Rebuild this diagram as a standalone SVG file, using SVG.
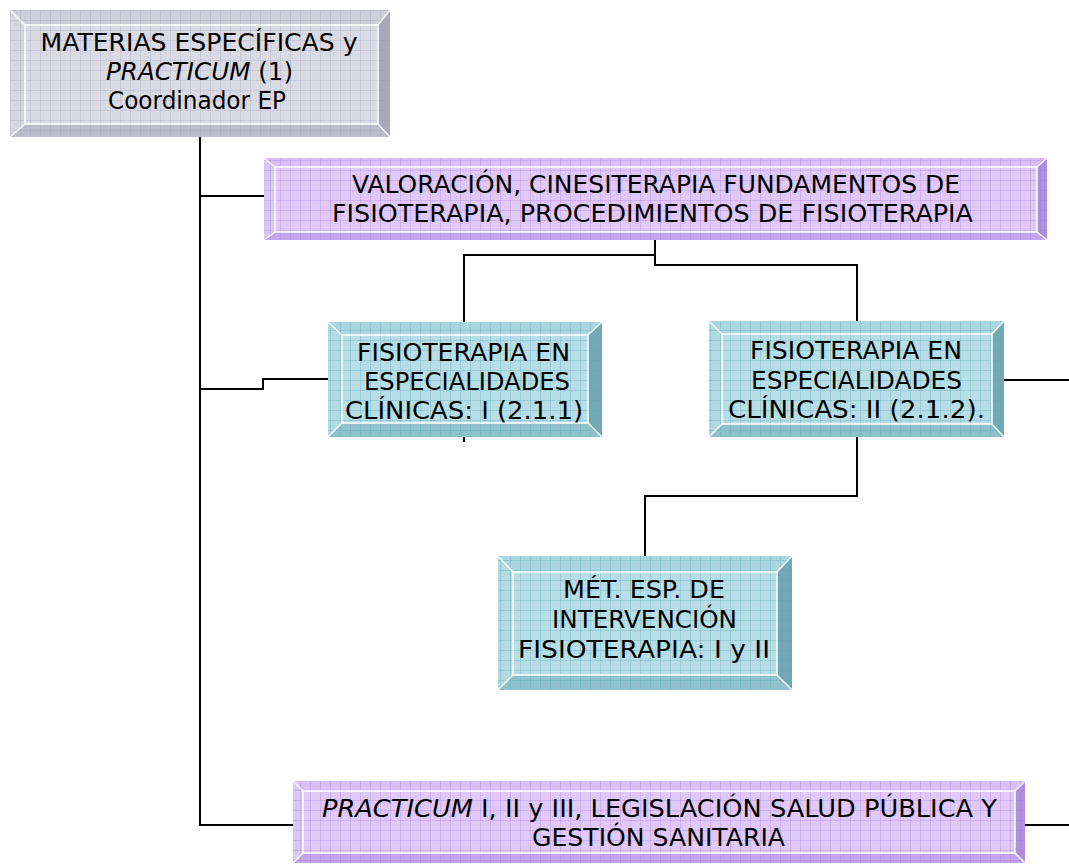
<svg xmlns="http://www.w3.org/2000/svg" width="1069" height="865" viewBox="0 0 1069 865">
<style>
.t{font-family:"DejaVu Sans",Verdana,sans-serif;font-size:25px;fill:#000;text-anchor:middle}
.c{stroke:#000;stroke-width:2;fill:none}
.hl{stroke:#fff;stroke-width:1.5;fill:none}
.dg{stroke:#fff;stroke-width:1.5;opacity:0.9}
.g .top{fill:#cfcfdb}.g .lft{fill:#d6d6e0}.g .rgt{fill:#a9a9ba}.g .bot{fill:#bcbccb}.g .face{fill:#dadae4}
.p .top{fill:#d8bff5}.p .lft{fill:#dcc6f6}.p .rgt{fill:#ae90da}.p .bot{fill:#c4a5ee}.p .face{fill:#e0c9f7}
.b .top{fill:#a9d6df}.b .lft{fill:#b1dbe3}.b .rgt{fill:#74a8b4}.b .bot{fill:#8ec1cc}.b .face{fill:#b7dee6}
</style>
<defs>
<pattern id="gg" width="10" height="10" patternUnits="userSpaceOnUse"><path d="M0,0.5H10M0.5,0V10" stroke="#9a9ab4" stroke-opacity="0.28" stroke-width="1" fill="none"/></pattern>
<pattern id="pg" width="10" height="10" patternUnits="userSpaceOnUse"><path d="M0,0.5H10M0.5,0V10" stroke="#a070e0" stroke-opacity="0.28" stroke-width="1" fill="none"/></pattern>
<pattern id="bg" width="10" height="10" patternUnits="userSpaceOnUse"><path d="M0,0.5H10M0.5,0V10" stroke="#5aa6b8" stroke-opacity="0.32" stroke-width="1" fill="none"/></pattern>
</defs>

<g id="connectors">
<path class="c" d="M200,137V825H293"/>
<path class="c" d="M200,196H264"/>
<path class="c" d="M200,389H263V379H328"/>
<path class="c" d="M1025,825H1069"/>
<path class="c" d="M1004,380H1069"/>
<path class="c" d="M655,240V265H857V321"/>
<path class="c" d="M655,255H464V322"/>
<path class="c" d="M857,437V496H645V556"/>
<path class="c" d="M464,437V442"/>
</g>

<g id="n-materias" class="g">
<polygon class="top" points="10,10 390,10 378,25 25,25"/>
<polygon class="lft" points="10,10 25,25 25,124 10,137"/>
<polygon class="rgt" points="390,10 390,137 378,124 378,25"/>
<polygon class="bot" points="10,137 25,124 378,124 390,137"/>
<rect class="face" x="25" y="25" width="353" height="99"/>
<rect x="10" y="10" width="380" height="127" fill="url(#gg)"/>
<rect class="hl" x="25" y="25" width="353" height="99"/>
<path class="dg" d="M10,10L25,25M390,10L378,25M10,137L25,124M390,137L378,124"/>
<text class="t" x="199" y="51" textLength="317" lengthAdjust="spacingAndGlyphs">MATERIAS ESPECÍFICAS y</text>
<text class="t" x="199.5" y="80" textLength="187" lengthAdjust="spacingAndGlyphs"><tspan font-style="italic">PRACTICUM</tspan> (1)</text>
<text class="t" x="197" y="109" textLength="178" lengthAdjust="spacingAndGlyphs">Coordinador EP</text>
</g>

<g id="n-valoracion" class="p">
<polygon class="top" points="264,158 1047,158 1037,167 275,167"/>
<polygon class="lft" points="264,158 275,167 275,232 264,240"/>
<polygon class="rgt" points="1047,158 1047,240 1037,232 1037,167"/>
<polygon class="bot" points="264,240 275,232 1037,232 1047,240"/>
<rect class="face" x="275" y="167" width="762" height="65"/>
<rect x="264" y="158" width="783" height="82" fill="url(#pg)"/>
<rect class="hl" x="275" y="167" width="762" height="65"/>
<path class="dg" d="M264,158L275,167M1047,158L1037,167M264,240L275,232M1047,240L1037,232"/>
<text class="t" x="656" y="193" textLength="608" lengthAdjust="spacingAndGlyphs">VALORACIÓN, CINESITERAPIA FUNDAMENTOS DE</text>
<text class="t" x="652.5" y="222" textLength="641" lengthAdjust="spacingAndGlyphs">FISIOTERAPIA, PROCEDIMIENTOS DE FISIOTERAPIA</text>
</g>

<g id="n-clinicas1" class="b">
<polygon class="top" points="328,322 602,322 588,335 342,335"/>
<polygon class="lft" points="328,322 342,335 342,423 328,437"/>
<polygon class="rgt" points="602,322 602,437 588,423 588,335"/>
<polygon class="bot" points="328,437 342,423 588,423 602,437"/>
<rect class="face" x="342" y="335" width="246" height="88"/>
<rect x="328" y="322" width="274" height="115" fill="url(#bg)"/>
<rect class="hl" x="342" y="335" width="246" height="88"/>
<path class="dg" d="M328,322L342,335M602,322L588,335M328,437L342,423M602,437L588,423"/>
<text class="t" x="463.5" y="361" textLength="213" lengthAdjust="spacingAndGlyphs">FISIOTERAPIA EN</text>
<text class="t" x="467" y="390" textLength="206" lengthAdjust="spacingAndGlyphs">ESPECIALIDADES</text>
<text class="t" x="464" y="419" textLength="238" lengthAdjust="spacingAndGlyphs">CLÍNICAS: I (2.1.1)</text>
</g>

<g id="n-clinicas2" class="b">
<polygon class="top" points="709,321 1004,321 992,334 722,334"/>
<polygon class="lft" points="709,321 722,334 722,424 709,437"/>
<polygon class="rgt" points="1004,321 1004,437 992,424 992,334"/>
<polygon class="bot" points="709,437 722,424 992,424 1004,437"/>
<rect class="face" x="722" y="334" width="270" height="90"/>
<rect x="709" y="321" width="295" height="116" fill="url(#bg)"/>
<rect class="hl" x="722" y="334" width="270" height="90"/>
<path class="dg" d="M709,321L722,334M1004,321L992,334M709,437L722,424M1004,437L992,424"/>
<text class="t" x="856" y="359" textLength="212" lengthAdjust="spacingAndGlyphs">FISIOTERAPIA EN</text>
<text class="t" x="856.5" y="389" textLength="211" lengthAdjust="spacingAndGlyphs">ESPECIALIDADES</text>
<text class="t" x="856.5" y="418" textLength="257" lengthAdjust="spacingAndGlyphs">CLÍNICAS: II (2.1.2).</text>
</g>

<g id="n-metodos" class="b">
<polygon class="top" points="498,556 792,556 777,572 513,572"/>
<polygon class="lft" points="498,556 513,572 513,675 498,690"/>
<polygon class="rgt" points="792,556 792,690 777,675 777,572"/>
<polygon class="bot" points="498,690 513,675 777,675 792,690"/>
<rect class="face" x="513" y="572" width="264" height="103"/>
<rect x="498" y="556" width="294" height="134" fill="url(#bg)"/>
<rect class="hl" x="513" y="572" width="264" height="103"/>
<path class="dg" d="M498,556L513,572M792,556L777,572M498,690L513,675M792,690L777,675"/>
<text class="t" x="644" y="598" textLength="162" lengthAdjust="spacingAndGlyphs">MÉT. ESP. DE</text>
<text class="t" x="644.5" y="628" textLength="185" lengthAdjust="spacingAndGlyphs">INTERVENCIÓN</text>
<text class="t" x="644" y="658" textLength="252" lengthAdjust="spacingAndGlyphs">FISIOTERAPIA: I y II</text>
</g>

<g id="n-practicum" class="p">
<polygon class="top" points="293,781 1025,781 1015,791 303,791"/>
<polygon class="lft" points="293,781 303,791 303,853 293,863"/>
<polygon class="rgt" points="1025,781 1025,863 1015,853 1015,791"/>
<polygon class="bot" points="293,863 303,853 1015,853 1025,863"/>
<rect class="face" x="303" y="791" width="712" height="62"/>
<rect x="293" y="781" width="732" height="82" fill="url(#pg)"/>
<rect class="hl" x="303" y="791" width="712" height="62"/>
<path class="dg" d="M293,781L303,791M1025,781L1015,791M293,863L303,853M1025,863L1015,853"/>
<text class="t" x="659.5" y="817" textLength="675" lengthAdjust="spacingAndGlyphs"><tspan font-style="italic">PRACTICUM</tspan> I, II y III, LEGISLACIÓN SALUD PÚBLICA Y</text>
<text class="t" x="658.5" y="846" textLength="253" lengthAdjust="spacingAndGlyphs">GESTIÓN SANITARIA</text>
</g>
</svg>
